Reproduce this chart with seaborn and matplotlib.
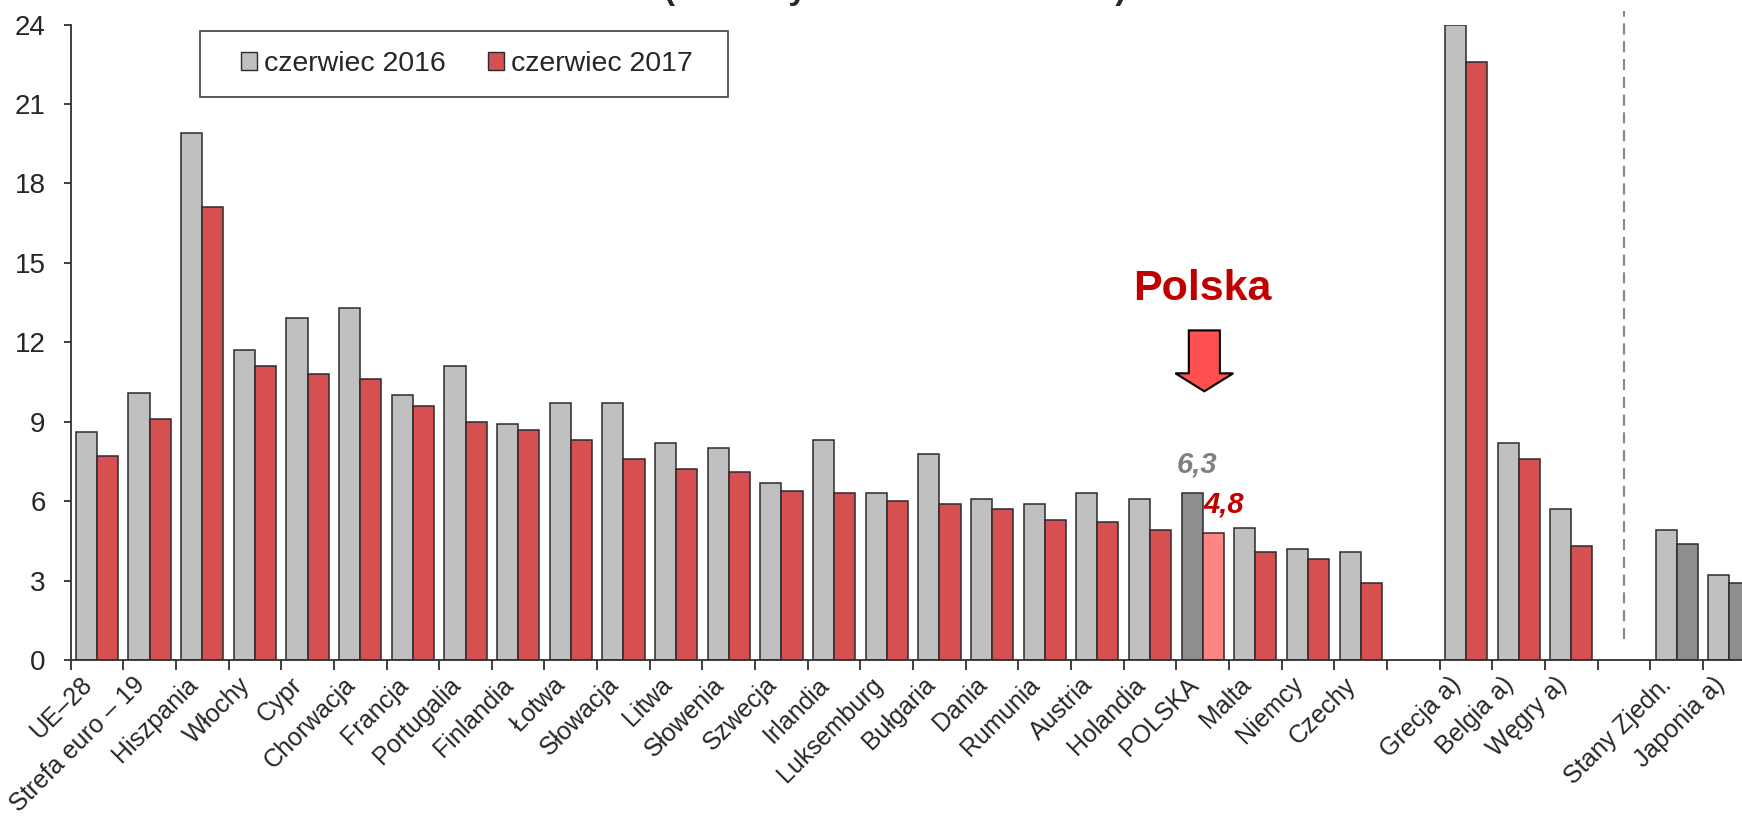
import numpy as np
import pandas as pd
import matplotlib
matplotlib.use('Agg')
import matplotlib.pyplot as plt
import seaborn as sns
from matplotlib.patches import FancyArrow, Patch, Rectangle

# data (stopa bezrobocia, %)
kraje = ['UE–28', 'Strefa euro – 19', 'Hiszpania', 'Włochy', 'Cypr', 'Chorwacja',
         'Francja', 'Portugalia', 'Finlandia', 'Łotwa', 'Słowacja', 'Litwa',
         'Słowenia', 'Szwecja', 'Irlandia', 'Luksemburg', 'Bułgaria', 'Dania',
         'Rumunia', 'Austria', 'Holandia', 'POLSKA', 'Malta', 'Niemcy', 'Czechy']
kraje_a = ['Grecja a)', 'Belgia a)', 'Węgry a)']
kraje_poza = ['Stany Zjedn.', 'Japonia a)']

v2016 = [8.6, 10.1, 19.9, 11.7, 12.9, 13.3, 10.0, 11.1, 8.9, 9.7, 9.7, 8.2,
         8.0, 6.7, 8.3, 6.3, 7.8, 6.1, 5.9, 6.3, 6.1, 6.3, 5.0, 4.2, 4.1,
         24.0, 8.2, 5.7,
         4.9, 3.2]
v2017 = [7.7, 9.1, 17.1, 11.1, 10.8, 10.6, 9.6, 9.0, 8.7, 8.3, 7.6, 7.2,
         7.1, 6.4, 6.3, 6.0, 5.9, 5.7, 5.3, 5.2, 4.9, 4.8, 4.1, 3.8, 2.9,
         22.6, 7.6, 4.3,
         4.4, 2.9]
okresy = ['czerwiec 2016', 'czerwiec 2017']

wszystkie = kraje + kraje_a + kraje_poza
df = pd.DataFrame({
    'kraj': wszystkie * 2,
    'okres': [okresy[0]] * len(wszystkie) + [okresy[1]] * len(wszystkie),
    'stopa': v2016 + v2017,
})
# empty slots separate the groups
order = kraje + ['_gap1'] + kraje_a + ['_gap2'] + kraje_poza

szary = '#c0c0c0'
czerwony = '#d64f51'
ciemny = '#8e8e8e'
jasnyczerwony = '#ff8585'

sns.set_style('ticks')
plt.rcParams['font.family'] = ['Liberation Sans', 'DejaVu Sans']

fig = plt.figure(figsize=(17.42, 8.17), dpi=100)
ax = fig.add_axes([0.0405, 0.192, 0.9595, 0.778])

sns.barplot(data=df, x='kraj', y='stopa', hue='okres', order=order,
            hue_order=okresy, palette=[szary, czerwony], saturation=1,
            width=0.8, edgecolor='#2b2b2b', linewidth=1.1, legend=False, ax=ax)

# special colours: Polska and the non-EU countries
i_pl = order.index('POLSKA')
i_poza = [order.index(k) for k in kraje_poza]
for j, cont in enumerate(ax.containers):
    for bar in cont:
        idx = int(round(bar.get_x() + bar.get_width() / 2))
        if idx == i_pl:
            bar.set_facecolor(ciemny if j == 0 else jasnyczerwony)
        elif idx in i_poza and j == 1:
            bar.set_facecolor(ciemny)

ax.set_yticks(np.arange(0, 25, 3))
ax.set_xlabel('')
ax.set_ylabel('')

labels = ['' if k.startswith('_gap') else k for k in order]
ax.set_xticks(range(len(order)))
ax.set_xticklabels(labels, rotation=45, ha='right', fontsize=18)
ax.set_xticks(np.arange(-0.5, len(order), 1), minor=True)
ax.tick_params(axis='x', which='major', length=0, pad=9)
ax.tick_params(axis='x', which='minor', length=7, width=1.3, color='#303030', direction='out')
ax.tick_params(axis='y', labelsize=20, length=5, width=1.3, color='#303030', pad=13)
# limits after the ticks, set_xticks would widen them
ax.set_xlim(-0.5, 31.24)
ax.set_ylim(0, 24)

sns.despine(ax=ax)
for s in ['left', 'bottom']:
    ax.spines[s].set_color('#303030')
    ax.spines[s].set_linewidth(1.3)

# dashed separator before non-EU countries
ax.plot([order.index('_gap2')] * 2, [0.8, 24.5], ls=(0, (5, 3)), color='#8a8a8a',
        lw=1.6, clip_on=False, scalex=False, scaley=False)

# Polska marker
ax.text(i_pl, 14.0, 'Polska', color='#c00000', fontsize=31, fontweight='bold',
        ha='center', va='center')
ax.add_patch(FancyArrow(i_pl + 0.03, 12.45, 0, -2.3, width=0.59, head_width=1.1,
                        head_length=0.68, length_includes_head=True,
                        fc='#ff5050', ec='black', lw=1.5))
ax.text(i_pl - 0.11, 7.40, '6,3', color='#808080', fontsize=21, fontweight='bold',
        fontstyle='italic', ha='center', va='center')
ax.text(i_pl + 0.40, 5.89, '4,8', color='#c00000', fontsize=21, fontweight='bold',
        fontstyle='italic', ha='center', va='center')

# legend with its own box
ax.add_patch(Rectangle((0.0775, 0.8858), 0.316, 0.1038, transform=ax.transAxes,
                       fc='white', ec='#404040', lw=1.2, zorder=4, clip_on=False))
uchwyty = [Patch(facecolor=szary, edgecolor='#2b2b2b'),
           Patch(facecolor=czerwony, edgecolor='#2b2b2b')]
leg = ax.legend(uchwyty, okresy, loc='center left', ncol=2,
                bbox_to_anchor=(0.102, 0.9377), fontsize=20.5, frameon=False,
                borderpad=0, borderaxespad=0, handlelength=0.55, handleheight=0.55,
                handletextpad=0.25, columnspacing=1.5)
leg.set_zorder(5)

# title, cut off by the top edge in the reference: only its descenders show
fig.text(0.514, 1 + 1 / 817, '(dane wyrównane sezonowo)', fontsize=24,
         fontweight='bold', ha='center', va='baseline')

fig.savefig('out.png', dpi=100)
